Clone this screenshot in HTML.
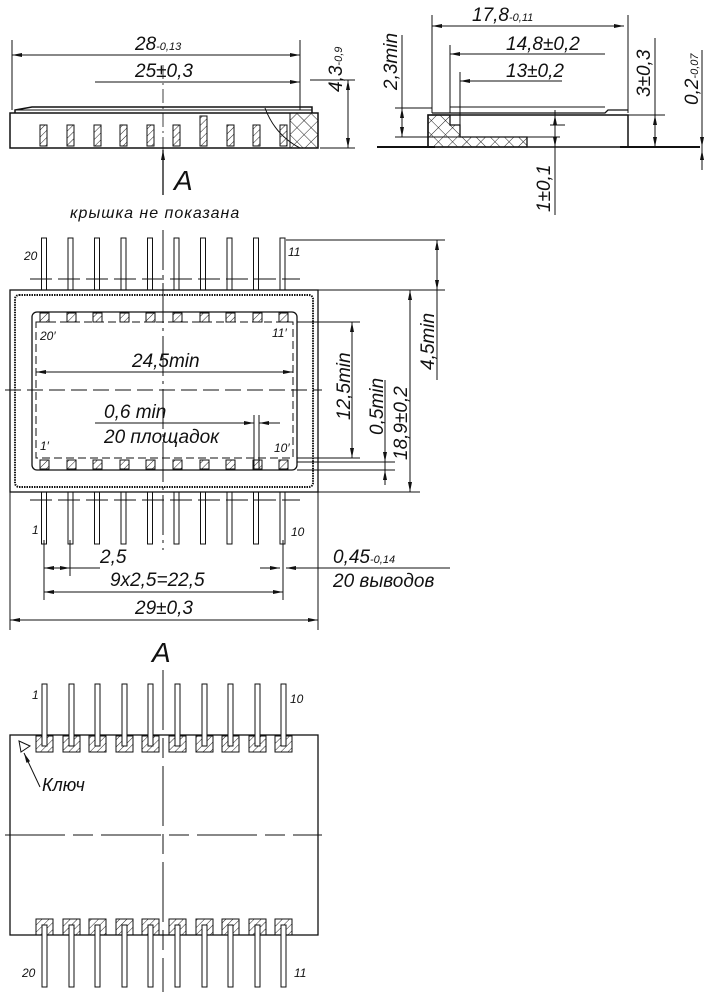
<!DOCTYPE html>
<html><head><meta charset="utf-8"><style>
html,body{margin:0;padding:0;background:#fff}
svg text{font-family:"Liberation Sans","DejaVu Sans",sans-serif;font-style:italic;fill:#111}
</style></head><body>
<svg width="714" height="1000" viewBox="0 0 714 1000" xmlns="http://www.w3.org/2000/svg">
<defs>
<pattern id="h" width="5" height="5" patternUnits="userSpaceOnUse" patternTransform="rotate(45)"><line x1="0" y1="0" x2="0" y2="5" stroke="#222" stroke-width="1"/></pattern>
<pattern id="x" width="10" height="10" patternUnits="userSpaceOnUse" patternTransform="rotate(45)"><path d="M0 0V10M0 0H10" stroke="#222" stroke-width="1" fill="none"/></pattern>
<marker id="a" viewBox="0 0 10 4" refX="10" refY="2" markerWidth="12" markerHeight="4" markerUnits="userSpaceOnUse" orient="auto-start-reverse"><path d="M0 0L10 2L0 4z" fill="#111"/></marker>
</defs>
<g stroke="#111" fill="none" stroke-width="1">
<!-- TOP LEFT side view -->
<line x1="12" y1="40" x2="12" y2="110"/><line x1="300" y1="40" x2="300" y2="110"/>
<line x1="12" y1="55" x2="300" y2="55" marker-start="url(#a)" marker-end="url(#a)"/>
<line x1="95" y1="82" x2="300" y2="82" marker-end="url(#a)"/>
<line x1="310" y1="80" x2="355" y2="80"/><line x1="320" y1="148" x2="355" y2="148"/>
<line x1="348" y1="80" x2="348" y2="148" marker-start="url(#a)" marker-end="url(#a)"/>
<path d="M15 113 L15 110 L32 107 L312 107 L312 113" stroke-width="1.5"/>
<line x1="15" y1="110" x2="312" y2="110"/>
<rect x="10" y="113" width="308" height="35" stroke-width="1.5"/>
<rect x="290" y="113" width="28" height="35" fill="url(#x)"/>
<path d="M265 108 Q275 135 300 148" />
<line x1="163" y1="65" x2="163" y2="160" stroke-dasharray="14 4 2 4" stroke-width="0.8"/>
<g fill="url(#h)">
<rect x="40" y="125" width="7" height="21"/><rect x="67" y="125" width="7" height="21"/><rect x="94" y="125" width="7" height="21"/><rect x="120" y="125" width="7" height="21"/><rect x="147" y="125" width="7" height="21"/><rect x="173" y="125" width="7" height="21"/><rect x="200" y="116" width="7" height="30"/><rect x="227" y="125" width="7" height="21"/><rect x="253" y="125" width="7" height="21"/><rect x="280" y="125" width="7" height="21"/>
</g>
<line x1="163" y1="195" x2="163" y2="150" stroke-width="1.3" marker-end="url(#a)"/>
<!-- TOP RIGHT side view -->
<line x1="432" y1="15" x2="432" y2="113"/><line x1="628" y1="15" x2="628" y2="113"/>
<line x1="450" y1="45" x2="450" y2="113"/><line x1="460" y1="72" x2="460" y2="125"/>
<line x1="432" y1="26" x2="624" y2="26" marker-start="url(#a)" marker-end="url(#a)"/>
<line x1="450" y1="54" x2="605" y2="54" marker-start="url(#a)"/>
<line x1="460" y1="81" x2="562" y2="81" marker-start="url(#a)"/>
<line x1="395" y1="108" x2="432" y2="108"/><line x1="395" y1="137" x2="560" y2="137"/>
<line x1="402" y1="35" x2="402" y2="137" /><line x1="402" y1="108" x2="402" y2="137" marker-start="url(#a)" marker-end="url(#a)"/>
<line x1="628" y1="115" x2="665" y2="115"/><line x1="655" y1="38" x2="655" y2="147" /><line x1="655" y1="115" x2="655" y2="147" marker-start="url(#a)" marker-end="url(#a)"/>
<line x1="702" y1="50" x2="702" y2="170"/><line x1="702" y1="125" x2="702" y2="147" marker-end="url(#a)"/><line x1="702" y1="168" x2="702" y2="150" marker-end="url(#a)"/>
<line x1="555" y1="110" x2="555" y2="215"/><line x1="555" y1="115" x2="555" y2="147" marker-start="url(#a)" marker-end="url(#a)"/>
<line x1="550" y1="125" x2="565" y2="125"/>
<line x1="377" y1="147" x2="435" y2="147" stroke-width="2"/><line x1="620" y1="147" x2="700" y2="147" stroke-width="2"/>
<path d="M432 113 L605 113 L608 110 L628 110" stroke-width="1.3"/><line x1="450" y1="107" x2="605" y2="107"/>
<rect x="428" y="115" width="200" height="32" stroke-width="1.5"/>
<path d="M428 115 H450 V125 H460 V137 H527 V147 H428 Z" fill="url(#x)" stroke-width="1.3"/>
<!-- PLAN VIEW -->
<line x1="286" y1="240" x2="445" y2="240"/><line x1="318" y1="290" x2="445" y2="290"/>
<line x1="437" y1="240" x2="437" y2="380"/><line x1="437" y1="240" x2="437" y2="290" marker-start="url(#a)" marker-end="url(#a)"/>
<line x1="318" y1="492" x2="420" y2="492"/>
<line x1="410" y1="290" x2="410" y2="492" marker-start="url(#a)" marker-end="url(#a)"/>
<line x1="297" y1="322" x2="360" y2="322"/><line x1="297" y1="458" x2="360" y2="458"/>
<line x1="352" y1="322" x2="352" y2="458" marker-start="url(#a)" marker-end="url(#a)"/>
<line x1="297" y1="462" x2="395" y2="462"/><line x1="297" y1="470" x2="395" y2="470"/>
<line x1="385" y1="380" x2="385" y2="480"/><line x1="385" y1="445" x2="385" y2="462" marker-end="url(#a)"/>
<line x1="385" y1="485" x2="385" y2="470" marker-end="url(#a)"/>
<rect x="10" y="290" width="308" height="202" stroke-width="1.3"/>
<rect x="15" y="295" width="298" height="192" rx="4" stroke-width="2" stroke-dasharray="1.5 1"/>
<rect x="32" y="312" width="265" height="158" rx="5" stroke-width="1.3"/>
<rect x="36" y="322" width="257" height="136" stroke-dasharray="8 4"/>
<g id="pp">
<rect x="40" y="313" width="9" height="9" fill="url(#h)"/><rect x="67" y="313" width="9" height="9" fill="url(#h)"/><rect x="93" y="313" width="9" height="9" fill="url(#h)"/><rect x="120" y="313" width="9" height="9" fill="url(#h)"/><rect x="146" y="313" width="9" height="9" fill="url(#h)"/><rect x="173" y="313" width="9" height="9" fill="url(#h)"/><rect x="200" y="313" width="9" height="9" fill="url(#h)"/><rect x="226" y="313" width="9" height="9" fill="url(#h)"/><rect x="253" y="313" width="9" height="9" fill="url(#h)"/><rect x="279" y="313" width="9" height="9" fill="url(#h)"/>
</g>
<use href="#pp" y="147"/>
<line x1="36" y1="372" x2="293" y2="372" marker-start="url(#a)" marker-end="url(#a)"/>
<line x1="5" y1="390" x2="322" y2="390" stroke-dasharray="16 6" />
<line x1="163" y1="230" x2="163" y2="550" stroke-dasharray="40 5 3 5"/>
<line x1="254" y1="415" x2="254" y2="470"/><line x1="259" y1="415" x2="259" y2="470"/>
<line x1="95" y1="423" x2="254" y2="423" marker-end="url(#a)"/><line x1="280" y1="423" x2="259" y2="423" marker-end="url(#a)"/>
<g id="tp">
<rect x="41.5" y="238" width="5" height="52"/><rect x="68" y="238" width="5" height="52"/><rect x="94.5" y="238" width="5" height="52"/><rect x="121" y="238" width="5" height="52"/><rect x="147.5" y="238" width="5" height="52"/><rect x="174" y="238" width="5" height="52"/><rect x="200.5" y="238" width="5" height="52"/><rect x="227" y="238" width="5" height="52"/><rect x="253.5" y="238" width="5" height="52"/><rect x="280" y="238" width="5" height="52"/>
</g>
<use href="#tp" y="254"/>
<line x1="30" y1="279" x2="300" y2="279" stroke-dasharray="22 6"/>
<line x1="30" y1="500" x2="300" y2="500" stroke-dasharray="22 6"/>
<line x1="10" y1="492" x2="10" y2="630"/><line x1="318" y1="492" x2="318" y2="630"/>
<line x1="44" y1="540" x2="44" y2="600"/><line x1="70" y1="540" x2="70" y2="576"/><line x1="283" y1="540" x2="283" y2="600"/>
<line x1="44" y1="568" x2="70" y2="568" marker-start="url(#a)" marker-end="url(#a)"/>
<line x1="70" y1="568" x2="100" y2="568"/>
<line x1="260" y1="568" x2="280" y2="568" marker-end="url(#a)"/><line x1="310" y1="568" x2="286" y2="568" marker-end="url(#a)"/>
<line x1="310" y1="568" x2="450" y2="568"/>
<line x1="44" y1="592" x2="283" y2="592" marker-start="url(#a)" marker-end="url(#a)"/>
<line x1="10" y1="620" x2="318" y2="620" marker-start="url(#a)" marker-end="url(#a)"/>
<!-- BOTTOM VIEW -->
<rect x="10" y="735" width="308" height="200" stroke-width="1.3"/>
<line x1="163" y1="670" x2="163" y2="992" stroke-dasharray="60 8 20 8"/>
<line x1="5" y1="835" x2="322" y2="835" stroke-dasharray="60 8 20 8"/>
<g id="bp">
<rect x="36" y="736" width="17" height="16" fill="url(#h)"/><rect x="63" y="736" width="17" height="16" fill="url(#h)"/><rect x="89" y="736" width="17" height="16" fill="url(#h)"/><rect x="116" y="736" width="17" height="16" fill="url(#h)"/><rect x="142" y="736" width="17" height="16" fill="url(#h)"/><rect x="169" y="736" width="17" height="16" fill="url(#h)"/><rect x="196" y="736" width="17" height="16" fill="url(#h)"/><rect x="222" y="736" width="17" height="16" fill="url(#h)"/><rect x="249" y="736" width="17" height="16" fill="url(#h)"/><rect x="275" y="736" width="17" height="16" fill="url(#h)"/>
</g>
<use href="#bp" y="183"/>
<g id="bt" fill="#fff">
<rect x="42" y="684" width="5" height="62"/><rect x="69" y="684" width="5" height="62"/><rect x="95" y="684" width="5" height="62"/><rect x="122" y="684" width="5" height="62"/><rect x="148" y="684" width="5" height="62"/><rect x="175" y="684" width="5" height="62"/><rect x="202" y="684" width="5" height="62"/><rect x="228" y="684" width="5" height="62"/><rect x="255" y="684" width="5" height="62"/><rect x="281" y="684" width="5" height="62"/>
</g>
<use href="#bt" y="241"/>
<path d="M19 741 L30 746 L21 752 Z"/>
<line x1="40" y1="787" x2="24" y2="753" marker-end="url(#a)"/>
</g>
<!-- TEXT -->
<g font-size="19">
<text x="135" y="50">28<tspan font-size="11">-0,13</tspan></text>
<text x="135" y="77">25±0,3</text>
<text transform="translate(342,92) rotate(-90)">4,3<tspan font-size="11">-0,9</tspan></text>
<text x="472" y="21">17,8<tspan font-size="11">-0,11</tspan></text>
<text x="506" y="50">14,8±0,2</text>
<text x="506" y="77">13±0,2</text>
<text transform="translate(397,90) rotate(-90)">2,3min</text>
<text transform="translate(650,97) rotate(-90)">3±0,3</text>
<text transform="translate(698,105) rotate(-90)">0,2<tspan font-size="11">-0,07</tspan></text>
<text transform="translate(550,212) rotate(-90)">1±0,1</text>
<text x="174" y="190" font-size="28">A</text>
<text x="70" y="218" font-size="16" letter-spacing="1">крышка не показана</text>
<text x="132" y="367">24,5min</text>
<text x="104" y="418">0,6 min</text>
<text x="104" y="443">20 площадок</text>
<text transform="translate(350,420) rotate(-90)">12,5min</text>
<text transform="translate(383,435) rotate(-90)">0,5min</text>
<text transform="translate(407,460) rotate(-90)">18,9±0,2</text>
<text transform="translate(434,370) rotate(-90)">4,5min</text>
<text x="100" y="563">2,5</text>
<text x="110" y="586">9x2,5=22,5</text>
<text x="135" y="614">29±0,3</text>
<text x="333" y="563">0,45<tspan font-size="11">-0,14</tspan></text>
<text x="333" y="587">20 выводов</text>
<text x="152" y="662" font-size="28">A</text>
<text x="42" y="791" font-size="18">Ключ</text>
</g>
<g font-size="12">
<text x="24" y="260">20</text><text x="288" y="256">11</text>
<text x="40" y="340">20′</text><text x="272" y="337">11′</text>
<text x="40" y="450">1′</text><text x="274" y="452">10′</text>
<text x="32" y="534">1</text><text x="291" y="536">10</text>
<text x="32" y="699">1</text><text x="290" y="703">10</text>
<text x="22" y="977">20</text><text x="294" y="977">11</text>
</g>
</svg>
</body></html>
